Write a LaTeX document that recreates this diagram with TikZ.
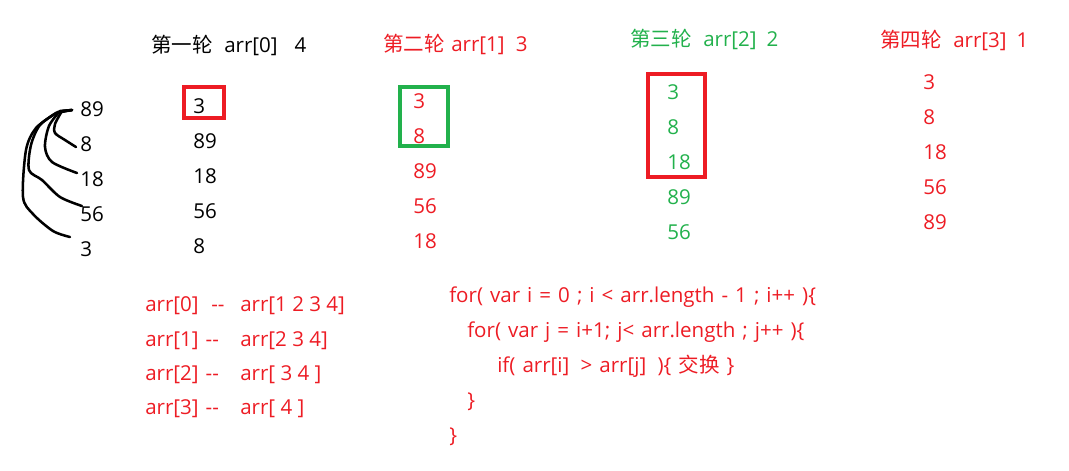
\documentclass[tikz,border=0pt]{standalone}
\usepackage{fontspec}
\setmainfont{Open Sans}
\newfontfamily\cjk{Noto Sans CJK SC}
\usepackage{tikz}
\usetikzlibrary{positioning}
\definecolor{sortred}{RGB}{237,28,36}
\definecolor{sortgreen}{RGB}{34,177,76}

\begin{document}
\begin{tikzpicture}[
    x=0.025cm, y=-0.025cm,
    every node/.style={inner sep=0pt, anchor=base west, font=\fontsize{14.6}{17}\selectfont},
    num/.style={text=#1},
    codeline/.style={text=sortred, execute at begin node={\spaceskip=5pt\relax}},
    markbox/.style={draw=#1, line width=2.8pt},
    stroke/.style={line width=1.8pt, line cap=round, line join=round}
]
    \useasboundingbox (0,0) rectangle (1069,470);

    \node (s89) at (80,116) {89};
    \node (s8) at (80,151) {8};
    \node (s18) at (80,186) {18};
    \node (s56) at (80,221) {56};
    \node (s3) at (80,256) {3};
    \coordinate (top) at (72,110);
    \draw[stroke] (top) -- (62,111) plot[smooth] coordinates {(62,111) (55,124) (55,133) (65,140) (76,147)};
    \draw[stroke] (top) -- (60,111) plot[smooth] coordinates {(60,111) (49,126) (45,147) (52,162) (77,173)};
    \draw[stroke] (top) -- (58,112) plot[smooth] coordinates {(58,112) (40,125) (31,145) (29,170) (42,180) (60,197) (82,206)};
    \draw[stroke] (top) -- (56,113) plot[smooth] coordinates {(56,113) (36,128) (26,150) (23,197) (33,214) (53,231) (70,237)};

    \node (h1) at (151,52) {\cjk 第一轮}; 
    \node (h1a) at (224,52) {arr[0]\hspace{12pt}4};
    \node (a1) at (193,113) {3};
    \node (b1) at (193,148) {89};
    \node (c1) at (193,183) {18};
    \node (d1) at (193,218) {56};
    \node (e1) at (193,253) {8};
    \draw[markbox=sortred] (184,87) rectangle (224,118);

    \node[num=sortred] (h2) at (383,51) {\cjk 第二轮};
    \node[num=sortred] (h2a) at (451,51) {arr[1]\hspace{8pt}3};
    \node[num=sortred] (a2) at (413,108) {3};
    \node[num=sortred] (b2) at (413,143) {8};
    \node[num=sortred] (c2) at (413,178) {89};
    \node[num=sortred] (d2) at (413,213) {56};
    \node[num=sortred] (e2) at (413,248) {18};
    \draw[markbox=sortgreen] (400,87) rectangle (448,146);

    \node[num=sortgreen] (h3) at (630,46) {\cjk 第三轮};
    \node[num=sortgreen] (h3a) at (703,46) {arr[2]\hspace{7pt}2};
    \node[num=sortgreen] (a3) at (667,99) {3};
    \node[num=sortgreen] (b3) at (667,134) {8};
    \node[num=sortgreen] (c3) at (667,169) {18};
    \node[num=sortgreen] (d3) at (667,204) {89};
    \node[num=sortgreen] (e3) at (667,239) {56};
    \draw[markbox=sortred] (648,74) rectangle (705,177);

    \node[num=sortred] (h4) at (880,47) {\cjk 第四轮};
    \node[num=sortred] (h4a) at (953,47) {arr[3]\hspace{7pt}1};
    \node[num=sortred] (a4) at (923,89) {3};
    \node[num=sortred] (b4) at (923,124) {8};
    \node[num=sortred] (c4) at (923,159) {18};
    \node[num=sortred] (d4) at (923,194) {56};
    \node[num=sortred] (e4) at (923,229) {89};

    \node[num=sortred] (r1) at (145,311) {arr[0]\hspace{9pt}-{}-};
    \node[num=sortred] (r2) at (145,346) {arr[1]\hspace{5pt}-{}-};
    \node[num=sortred] (r3) at (145,380) {arr[2]\hspace{5pt}-{}-};
    \node[num=sortred] (r4) at (145,414) {arr[3]\hspace{5pt}-{}-};
    \node[num=sortred] (q1) at (240,311) {arr[1 2 3 4]};
    \node[num=sortred] (q2) at (240,346) {arr[2 3 4]};
    \node[num=sortred] (q3) at (240,380) {arr[ 3 4 ]};
    \node[num=sortred] (q4) at (240,414) {arr[ 4 ]};

    \node[codeline] (code1) at (449,302) {for( var i = 0 ; i < arr.length - 1 ; i++ )\{};
    \node[codeline] (code2) at (467,337) {for( var j = i+1; j< arr.length ; j++ )\{};
    \node[codeline] (code3) at (497,372) {if( arr[i]\hspace{8pt}> arr[j]\hspace{8pt})\{ {\cjk 交换} \}};
    \node[codeline] (code4) at (467,407) {\}};
    \node[codeline] (code5) at (449,442) {\}};
\end{tikzpicture}
\end{document}
